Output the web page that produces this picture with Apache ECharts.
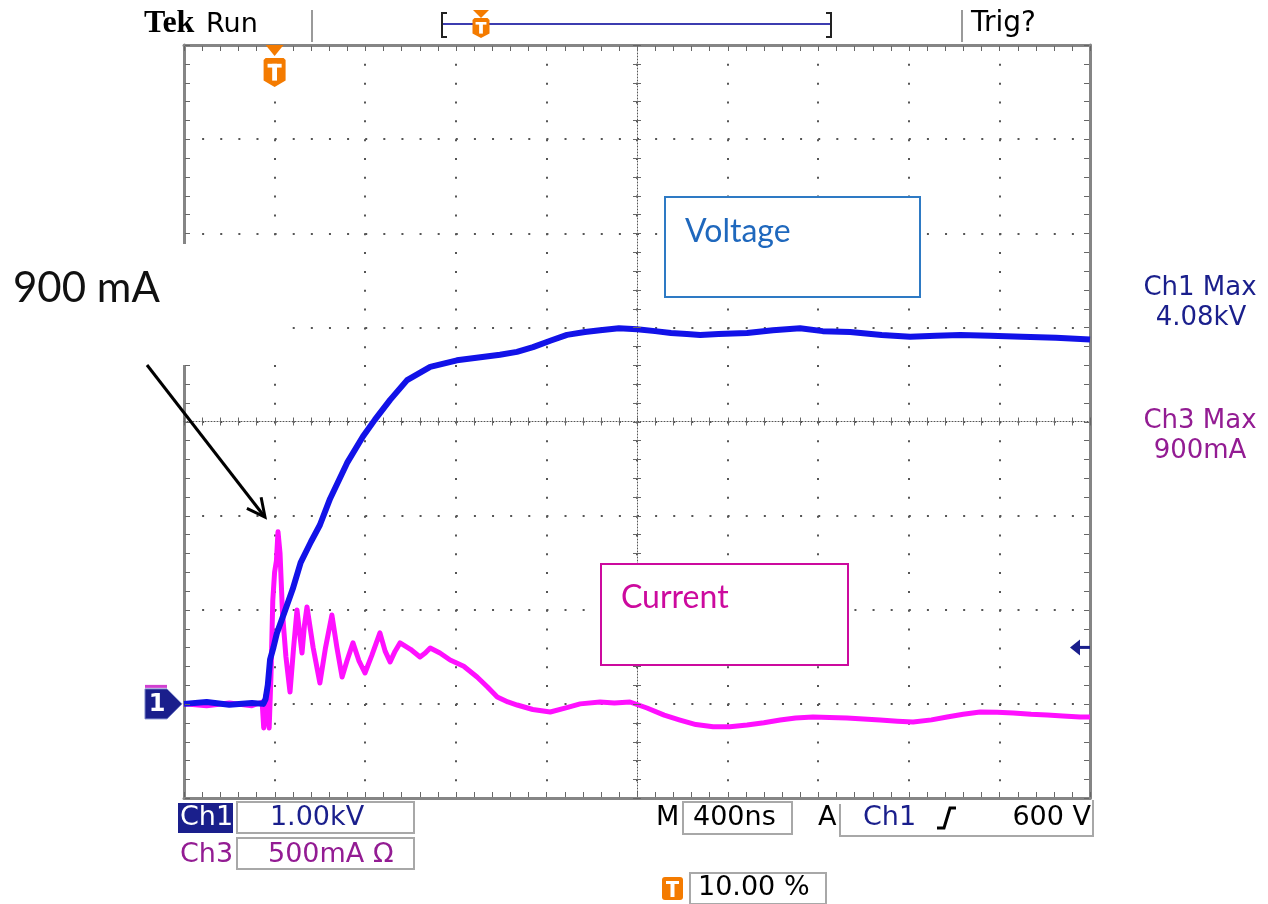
<!DOCTYPE html>
<html><head><meta charset="utf-8">
<script src="https://cdn.jsdelivr.net/npm/echarts@6/dist/echarts.min.js"></script>
<style>html,body{margin:0;padding:0;background:#fff}#c{width:1268px;height:904px}</style>
</head><body><div id="c"></div>
<script>
// ---------- data ----------
// time axis: 400 ns / div, 10 divisions, trigger at 10 % (t = 0)
const timeMinNs = -400, timeMaxNs = 3600, timeDivNs = 400;
// Ch1: 1.00 kV / div, ground one division above the bottom
const voltMinKV = -1, voltMaxKV = 7, voltDivKV = 1;
// Ch3: 500 mA / div, same ground level
const currMinMA = -500, currMaxMA = 3500, currDivMA = 500;

const voltageTimeNs = [-400,-300,-200,-100,-50,-40,-30,-20,-5,10,40,80,115,160,200,245,320,390,443,510,585,687,805,900,995,1070,1141,1220,1291,1370,1437,1520,1600,1680,1750,1820,1879,1960,2086,2200,2320,2420,2541,2680,2806,2920,3027,3160,3300,3450,3600];
const voltageKV     = [0,0.02,-0.01,0.01,0,0.05,0.2,0.47,0.6,0.75,0.95,1.22,1.5,1.72,1.9,2.18,2.56,2.84,3.02,3.23,3.44,3.58,3.65,3.68,3.71,3.74,3.79,3.86,3.92,3.95,3.97,3.99,3.98,3.96,3.94,3.93,3.92,3.93,3.94,3.97,3.99,3.96,3.95,3.92,3.90,3.91,3.92,3.91,3.90,3.89,3.87];

const currentTimeNs = [-400,-300,-200,-100,-55,-48,-40,-32,-24,-16,-8,0,8,15,24,35,50,68,84,99,110,121,132,143,170,200,225,253,275,298,320,346,372,399,430,465,488,510,532,554,600,642,665,687,730,775,835,894,940,983,1030,1071,1140,1217,1290,1349,1437,1500,1569,1644,1720,1790,1860,1936,2010,2086,2160,2232,2300,2377,2450,2527,2600,2673,2750,2819,2900,2969,3040,3115,3190,3261,3340,3411,3480,3556,3600];
const currentMA     = [0,-10,5,-10,10,-128,40,-60,-128,150,550,700,760,914,800,480,250,63,300,499,380,270,420,515,300,111,300,472,300,143,230,324,230,164,260,377,280,223,280,324,290,249,270,297,270,233,200,143,90,37,10,-6,-30,-43,-20,0,10,5,10,-22,-60,-86,-110,-122,-122,-112,-100,-86,-75,-70,-72,-75,-80,-86,-92,-96,-85,-70,-55,-43,-45,-48,-55,-59,-65,-70,-70];

const trigLevelKV = 0.6;
const headerTexts = {tek:'Tek', run:'Run', trig:'Trig?'};
const ch1MaxText = ['Ch1 Max', '4.08kV'];
const ch3MaxText = ['Ch3 Max', '900mA'];
const ch1Scale = '1.00kV', ch3Scale = '500mA \u03A9', timeScale = '400ns', trigLevelText = '600 V', trigPosText = '10.00 %';
const annotPeak = '900 mA', annotV = 'Voltage', annotI = 'Current';

// ---------- chart ----------
const GRID = {left:184, top:45, width:906, height:753};
const chart = echarts.init(document.getElementById('c'), null, {renderer:'canvas'});

const frameLine = {show:true, onZero:false, lineStyle:{color:'#858585', width:3}};
const centerLine = {show:true, onZero:false, lineStyle:{color:'#555', width:1, type:[1,2]}};
const noLabel = {show:false}, noTick = {show:false};

function xAx(extra){ return Object.assign({type:'value', min:timeMinNs, max:timeMaxNs, interval:timeDivNs, axisLabel:noLabel, axisTick:noTick, splitLine:{show:false}}, extra); }
function vAx(extra){ return Object.assign({type:'value', min:voltMinKV, max:voltMaxKV, interval:voltDivKV, axisLabel:noLabel, axisTick:noTick, splitLine:{show:false}}, extra); }

const option = {
  animation:false,
  backgroundColor:'#ffffff',
  grid:GRID,
  xAxis:[
    xAx({position:'bottom', axisLine:frameLine,
         splitLine:{show:true, lineStyle:{color:'#555', width:2, type:[2, 16.825]}}}),
    xAx({position:'top', axisLine:frameLine}),
    xAx({position:'bottom', offset:-GRID.height/2, axisLine:centerLine})
  ],
  yAxis:[
    vAx({position:'left', axisLine:frameLine,
         splitLine:{show:true, lineStyle:{color:'#555', width:2, type:[2, 16.12]}}}),
    {type:'value', min:currMinMA, max:currMaxMA, interval:currDivMA, position:'right', axisLabel:noLabel,
     axisLine:frameLine, axisTick:noTick, splitLine:{show:false}},
    vAx({position:'left', offset:-GRID.width/2, axisLine:centerLine})
  ],
  series:[
    {name:'Current', type:'line', xAxisIndex:0, yAxisIndex:1, showSymbol:false, z:3,
     data:currentTimeNs.map((t,i)=>[t, currentMA[i]]),
     lineStyle:{color:'#ff10ff', width:5, join:'round'}},
    {name:'Voltage', type:'line', xAxisIndex:0, yAxisIndex:0, showSymbol:false, z:4,
     data:voltageTimeNs.map((t,i)=>[t, voltageKV[i]]),
     lineStyle:{color:'#1212e8', width:6, join:'round'}}
  ]
};
chart.setOption(option);

// ---------- decorations ----------
const ORANGE = '#f47b00', NAVY = '#1a1f8c', PURPLE = '#931c93';
const SCOPE_FONT = 'DejaVu Sans';
function txt(x, y, text, font, fill, align, valign){
  return {type:'text', x:x, y:y, z:100,
    style:{text:text, font:font, fill:fill, textAlign:align||'left', textVerticalAlign:valign||'middle', align:align||'left', verticalAlign:valign||'middle'}};
}
function rect(x, y, w, h, stroke, fill, lw, z){
  return {type:'rect', z:z||90, shape:{x:x, y:y, width:w, height:h}, style:{fill:fill||'none', stroke:stroke||null, lineWidth:lw||0}};
}
function seg(x1, y1, x2, y2, color, lw, z){ return {type:'line', z:z||100, shape:{x1:x1,y1:y1,x2:x2,y2:y2}, style:{stroke:color, lineWidth:lw}}; }
function pline(points, color, lw){ return {type:'polyline', z:100, shape:{points:points}, style:{stroke:color, lineWidth:lw, fill:null}}; }
function shieldT(cx, top, w, h){
  return [
    {type:'polygon', z:100, shape:{points:[[cx-w/2,top+2],[cx-w/2+2,top],[cx+w/2-2,top],[cx+w/2,top+2],[cx+w/2,top+h*0.78],[cx,top+h],[cx-w/2,top+h*0.78]]}, style:{fill:ORANGE}},
    {type:'rect', z:101, shape:{x:cx-w*0.32, y:top+h*0.2, width:w*0.64, height:h*0.13}, style:{fill:'#fff'}},
    {type:'rect', z:101, shape:{x:cx-w*0.11, y:top+h*0.2, width:w*0.22, height:h*0.58}, style:{fill:'#fff'}}
  ];
}
const P = (t, v) => chart.convertToPixel({xAxisIndex:0, yAxisIndex:0}, [t, v]);

const g = [];
// graticule ruler ticks (every 1/5 division) on frame and centre lines
const x0 = GRID.left, x1 = GRID.left + GRID.width, y0 = GRID.top, y1 = GRID.top + GRID.height;
const cx = GRID.left + GRID.width/2, cy = GRID.top + GRID.height/2;
const TC = '#666';
for (let k = 0; k <= 50; k++) {
  const t = timeMinNs + k * timeDivNs / 5;
  const px = Math.round(P(t, 0)[0]) + 0.5;
  g.push(seg(px, y1 - 1, px, y1 - 6, TC, 1, 60));
  g.push(seg(px, y0 + 1, px, y0 + 6, TC, 1, 60));
  g.push(seg(px, cy - 4, px, cy + 4, TC, 1, 60));
}
for (let k = 0; k <= 40; k++) {
  const v = voltMinKV + k * voltDivKV / 5;
  const py = Math.round(P(0, v)[1]) + 0.5;
  g.push(seg(x0 + 1, py, x0 + 6, py, TC, 1, 60));
  g.push(seg(x1 - 1, py, x1 - 6, py, TC, 1, 60));
  g.push(seg(cx - 4, py, cx + 4, py, TC, 1, 60));
}

// white patch behind the "900 mA" callout
g.push({type:'rect', z:80, shape:{x:0, y:244, width:292, height:121}, style:{fill:'#fff'}});
g.push(txt(13, 288, annotPeak, '42px Lato', '#111'));
g.push(seg(147, 365, 264, 516, '#000', 3));
g.push(pline([[246.9,508.3],[265,517],[261.1,497.3]], '#000', 3));

// header
g.push(txt(144, 24, headerTexts.tek, 'bold 32px "Liberation Serif"', '#000'));
g.push(txt(206, 25, headerTexts.run, '27px "' + SCOPE_FONT + '"', '#000'));
g.push(seg(312, 10, 312, 42, '#9a9a9a', 2));
g.push(seg(962, 10, 962, 42, '#9a9a9a', 2));
g.push(txt(971, 24, headerTexts.trig, '28px "' + SCOPE_FONT + '"', '#000'));
g.push(seg(442, 24, 831, 24, '#3c3cb0', 2));
g.push(pline([[447,13],[442,13],[442,37],[447,37]], '#222', 2));
g.push(pline([[826,13],[831,13],[831,37],[826,37]], '#222', 2));
g.push({type:'polygon', z:100, shape:{points:[[473,10],[489,10],[481,18]]}, style:{fill:ORANGE}});
g.push(...shieldT(481, 18, 17, 20));

// trigger position marker on top of graticule
const trigPx = P(0, voltMaxKV);
g.push({type:'polygon', z:100, shape:{points:[[trigPx[0]-9,GRID.top],[trigPx[0]+9,GRID.top],[trigPx[0],GRID.top+11]]}, style:{fill:ORANGE}});
g.push(...shieldT(trigPx[0], 58, 22, 29));

// Ch1 ground marker (with Ch3 marker behind)
const gndPx = P(timeMinNs, 0);
g.push(rect(145, gndPx[1]-19, 22, 3, null, '#d040d0', 0, 100));
g.push({type:'polygon', z:100, shape:{points:[[145,gndPx[1]-15],[167,gndPx[1]-15],[gndPx[0]-2,gndPx[1]],[167,gndPx[1]+15],[145,gndPx[1]+15]]}, style:{fill:NAVY, stroke:'#7a86c8', lineWidth:1}});
g.push(txt(157, gndPx[1]+1, '1', 'bold 24px "' + SCOPE_FONT + '"', '#fff', 'center'));

// trigger level arrow on right edge
const lvlPx = P(timeMaxNs, trigLevelKV);
g.push({type:'polygon', z:100, shape:{points:[[lvlPx[0]-20,lvlPx[1]],[lvlPx[0]-10,lvlPx[1]-8],[lvlPx[0]-10,lvlPx[1]+8]]}, style:{fill:NAVY}});
g.push(seg(lvlPx[0]-12, lvlPx[1], lvlPx[0], lvlPx[1], NAVY, 3));

// right side max readouts
const RF = '26px "' + SCOPE_FONT + '"';
g.push(txt(1200, 288, ch1MaxText[0], RF, NAVY, 'center'));
g.push(txt(1201, 318, ch1MaxText[1], RF, NAVY, 'center'));
g.push(txt(1200, 421, ch3MaxText[0], RF, PURPLE, 'center'));
g.push(txt(1200, 451, ch3MaxText[1], RF, PURPLE, 'center'));

// labelled boxes
g.push(rect(665, 197, 255, 100, '#2e7ac4', '#fff', 2));
g.push(txt(685, 232, annotV, '32px Lato', '#1f68bd'));
g.push(rect(601, 564, 247, 101, '#cc0a9e', '#fff', 2));
g.push(txt(621, 598, annotI, '32px Lato', '#cc0a9e'));

// bottom readouts
const SF = '27px "' + SCOPE_FONT + '"';
g.push(rect(178, 803, 55, 30, null, NAVY));
g.push(txt(180, 818, 'Ch1', SF, '#fff'));
g.push(rect(237, 802, 177, 31, '#a8a8a8', 'none', 2));
g.push(txt(317, 818, ch1Scale, SF, NAVY, 'center'));
g.push(txt(180, 855, 'Ch3', SF, PURPLE));
g.push(rect(237, 838, 177, 31, '#a8a8a8', 'none', 2));
g.push(txt(268, 855, ch3Scale, SF, PURPLE));

g.push(txt(656, 818, 'M', SF, '#000'));
g.push(rect(683, 802, 109, 32, '#a8a8a8', 'none', 2));
g.push(txt(693, 818, timeScale, SF, '#000'));
g.push(txt(818, 818, 'A', SF, '#000'));
g.push(pline([[840,804],[840,836],[1093,836],[1093,800]], '#a8a8a8', 2));
g.push(txt(863, 818, 'Ch1', SF, NAVY));
g.push(pline([[937,828],[944,828],[950,808],[956,808]], '#000', 3));
g.push(txt(1091, 818, trigLevelText, SF, '#000', 'right'));

g.push({type:'rect', z:100, shape:{x:662, y:877, width:21, height:23, r:3}, style:{fill:ORANGE}});
g.push(rect(666, 881, 13, 3, null, '#fff', 0, 101));
g.push(rect(670.5, 881, 4, 16, null, '#fff', 0, 101));
g.push(rect(690, 873, 136, 31, '#a8a8a8', 'none', 2));
g.push(txt(698, 888, trigPosText, SF, '#000'));

chart.setOption({graphic:{elements:g}});
</script></body></html>
